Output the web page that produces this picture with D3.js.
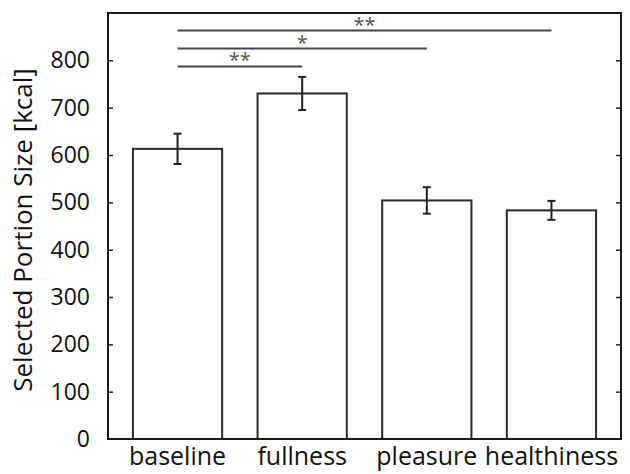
<!DOCTYPE html>
<html>
<head>
<meta charset="utf-8">
<script src="https://cdn.jsdelivr.net/npm/d3@7"></script>
<style>
  body { margin: 0; background: #fff; }
  svg text { font-family: "Open Sans", sans-serif; fill: #111; }
</style>
</head>
<body>
<svg id="chart" width="630" height="474"></svg>
<script>
// chart values
const categories = ['baseline', 'fullness', 'pleasure', 'healthiness'];
const means = [613, 730, 504, 483];
const errors = [32, 35, 28, 20];
const yTicks = [0, 100, 200, 300, 400, 500, 600, 700, 800];
// significance brackets: from baseline to target, label
const sigTargets = ['fullness', 'pleasure', 'healthiness'];
const sigLevels = [787, 825, 863];
const sigLabels = ['**', '*', '**'];

const margin = { top: 13, right: 9, bottom: 35, left: 108 };
const width = 630 - margin.left - margin.right;
const height = 474 - margin.top - margin.bottom;

const svg = d3.select('#chart');
const g = svg.append('g').attr('transform', `translate(${margin.left},${margin.top})`);

const x = d3.scaleBand()
  .domain(categories)
  .range([0, width])
  .paddingInner(0.284)
  .paddingOuter(0.2);

const y = d3.scaleLinear().domain([0, 900]).range([height, 0]);

const data = categories.map((c, i) => ({ cat: c, mean: means[i], err: errors[i] }));

// bars
g.selectAll('rect.bar')
  .data(data)
  .enter()
  .append('rect')
  .attr('class', 'bar')
  .attr('x', d => x(d.cat))
  .attr('y', d => y(d.mean))
  .attr('width', x.bandwidth())
  .attr('height', d => y(0) - y(d.mean))
  .attr('fill', '#fff')
  .attr('stroke', '#2a2a2a')
  .attr('stroke-width', 2);

// error bars
const eb = g.selectAll('g.err').data(data).enter().append('g')
  .attr('class', 'err')
  .attr('transform', d => `translate(${x(d.cat) + x.bandwidth() / 2},0)`)
  .attr('stroke', '#222')
  .attr('stroke-width', 2);
eb.append('line').attr('y1', d => y(d.mean - d.err)).attr('y2', d => y(d.mean + d.err));
eb.append('line').attr('x1', -4).attr('x2', 4).attr('y1', d => y(d.mean + d.err)).attr('y2', d => y(d.mean + d.err));
eb.append('line').attr('x1', -4).attr('x2', 4).attr('y1', d => y(d.mean - d.err)).attr('y2', d => y(d.mean - d.err));

// axes, ticks pointing inward
const left = g.append('g')
  .call(d3.axisLeft(y).tickValues(yTicks).tickSize(-5).tickPadding(18));
left.select('.domain').remove();
left.selectAll('.tick line').attr('stroke', '#222').attr('stroke-width', 1.5)
  .filter(d => d === 0).remove();
left.selectAll('.tick text').attr('font-size', 23).attr('font-family', '"Open Sans", sans-serif').attr('fill', '#111');

const right = g.append('g').attr('transform', `translate(${width},0)`)
  .call(d3.axisRight(y).tickValues(yTicks).tickSize(-5).tickFormat(''));
right.select('.domain').remove();
right.selectAll('.tick line').attr('stroke', '#222').attr('stroke-width', 1.5)
  .filter(d => d === 0).remove();

const bottom = g.append('g').attr('transform', `translate(0,${height})`)
  .call(d3.axisBottom(x).tickSize(0).tickPadding(8));
bottom.select('.domain').remove();
bottom.selectAll('.tick text').attr('font-size', 25).attr('font-family', '"Open Sans", sans-serif').attr('fill', '#111');

// frame
g.append('rect')
  .attr('width', width).attr('height', height)
  .attr('fill', 'none').attr('stroke', '#1a1a1a').attr('stroke-width', 2);

// significance lines
const cx = c => x(c) + x.bandwidth() / 2;
sigTargets.forEach((t, i) => {
  g.append('line')
    .attr('x1', cx('baseline')).attr('x2', cx(t))
    .attr('y1', y(sigLevels[i])).attr('y2', y(sigLevels[i]))
    .attr('stroke', '#444').attr('stroke-width', 2);
  g.append('text')
    .attr('x', (cx('baseline') + cx(t)) / 2)
    .attr('y', y(sigLevels[i]) + 1)
    .attr('text-anchor', 'middle')
    .attr('font-size', 20)
    .style('fill', '#555')
    .text(sigLabels[i]);
});

// y label
svg.append('text')
  .attr('transform', `translate(32,${margin.top + height / 2 + 4}) rotate(-90)`)
  .attr('text-anchor', 'middle')
  .attr('font-size', 26)
  .text('Selected Portion Size [kcal]');
</script>
</body>
</html>
